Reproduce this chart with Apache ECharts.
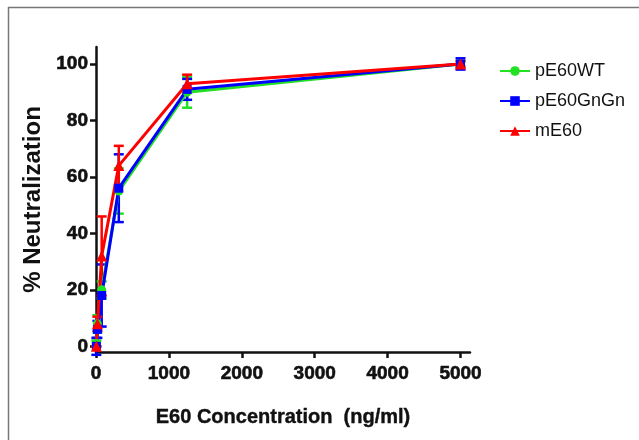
<!DOCTYPE html>
<html>
<head>
<meta charset="utf-8">
<script src="https://cdn.jsdelivr.net/npm/echarts@6/dist/echarts.min.js"></script>
<style>
  html, body { margin: 0; padding: 0; background: #fff; }
  #chart { width: 639px; height: 440px; }
</style>
</head>
<body>
<div id="chart"></div>
<script>
// concentrations (ng/ml)
const conc = [4.9, 19.5, 78, 312.5, 1250, 5000];

// % neutralization, mean and error
const wtMean = [1, 8, 20, 55, 90, 100];
const wtErr = [1, 3, 3, 8, 5.5, 1];
const gnMean = [0, 6, 18, 56, 91, 100];
const gnErr = [3, 3, 11, 12, 3.7, 2];
const mMean = [0, 8, 32, 64, 93, 100];
const mErr = [0, 2.5, 14, 7, 3.2, 1];

const xTicks = [0, 1000, 2000, 3000, 4000, 5000];
const yTicks = [0, 20, 40, 60, 80, 100];

const font = "'Liberation Sans', Arial, sans-serif";

var myChart = echarts.init(document.getElementById('chart'));

function lineSeries(name, means, color, symbol, size) {
	return {
		name: name,
		type: 'line',
		data: conc.map((c, i) => [c, means[i]]),
		symbol: symbol,
		symbolSize: size,
		itemStyle: { color: color },
		lineStyle: { color: color, width: 3 },
		z: 3
	};
}

function errSeries(name, means, errs, color) {
	return {
		name: name,
		type: 'custom',
		data: conc.map((c, i) => [c, means[i] - errs[i], means[i] + errs[i]]),
		encode: { x: 0, y: [1, 2] },
		clip: false,
		z: 2,
		renderItem: function (params, api) {
			const x = api.value(0);
			const lo = api.coord([x, api.value(1)]);
			const hi = api.coord([x, api.value(2)]);
			const w = 5;
			const style = { stroke: color, lineWidth: 2.5 };
			return {
				type: 'group',
				children: [
					{ type: 'line', shape: { x1: lo[0], y1: lo[1], x2: hi[0], y2: hi[1] }, style: style },
					{ type: 'line', shape: { x1: lo[0] - w, y1: lo[1], x2: lo[0] + w, y2: lo[1] }, style: style },
					{ type: 'line', shape: { x1: hi[0] - w, y1: hi[1], x2: hi[0] + w, y2: hi[1] }, style: style }
				]
			};
		}
	};
}

// bold tick labels, slightly thickened like the original export
const tickLabel = {
	fontFamily: font, fontWeight: 'bold', fontSize: 19, color: '#111',
	textBorderColor: '#111', textBorderWidth: 0.6,
	formatter: v => String(v)
};

var option = {
	backgroundColor: '#ffffff',
	animation: false,
	grid: { left: 96, right: 169, top: 47, bottom: 88 },
	legend: {
		data: ['pE60WT', 'pE60GnGn', 'mE60'],
		orient: 'vertical',
		left: 494,
		top: 57,
		itemWidth: 30,
		itemHeight: 12,
		itemGap: 12,
		textStyle: { fontFamily: font, fontSize: 18, color: '#111' }
	},
	xAxis: {
		type: 'value',
		min: 0,
		max: 5130,
		name: 'E60 Concentration  (ng/ml)',
		nameLocation: 'middle',
		nameGap: 55,
		nameTextStyle: { fontFamily: font, fontWeight: 'bold', fontSize: 20, color: '#111', textBorderColor: '#111', textBorderWidth: 0.4 },
		axisLine: { onZero: false, lineStyle: { color: '#111', width: 2.5 } },
		axisTick: { customValues: xTicks, length: 6, lineStyle: { color: '#111', width: 2.5 } },
		axisLabel: Object.assign({ customValues: xTicks, margin: 12 }, tickLabel),
		splitLine: { show: false }
	},
	yAxis: {
		type: 'value',
		min: -2,
		max: 106,
		name: '% Neutralization',
		nameLocation: 'middle',
		nameGap: 44,
		nameTextStyle: { fontFamily: font, fontWeight: 'bold', fontSize: 24, color: '#111' },
		axisLine: { onZero: false, lineStyle: { color: '#111', width: 2.5 } },
		axisTick: { customValues: yTicks, length: 6, lineStyle: { color: '#111', width: 2.5 } },
		axisLabel: Object.assign({ customValues: yTicks, margin: 8 }, tickLabel),
		splitLine: { show: false }
	},
	graphic: [
		{ type: 'line', shape: { x1: 8, y1: 7.5, x2: 639, y2: 7.5 }, style: { stroke: '#777', lineWidth: 1.5 } },
		{ type: 'line', shape: { x1: 8.5, y1: 7, x2: 8.5, y2: 440 }, style: { stroke: '#777', lineWidth: 1.5 } }
	],
	series: [
		errSeries('errWT', wtMean, wtErr, '#22e022'),
		errSeries('errGn', gnMean, gnErr, '#0000ff'),
		errSeries('errM', mMean, mErr, '#ff0000'),
		lineSeries('pE60WT', wtMean, '#22e022', 'circle', 9),
		lineSeries('pE60GnGn', gnMean, '#0000ff', 'rect', 9),
		lineSeries('mE60', mMean, '#ff0000', 'triangle', 11)
	]
};

myChart.setOption(option);
</script>
</body>
</html>
